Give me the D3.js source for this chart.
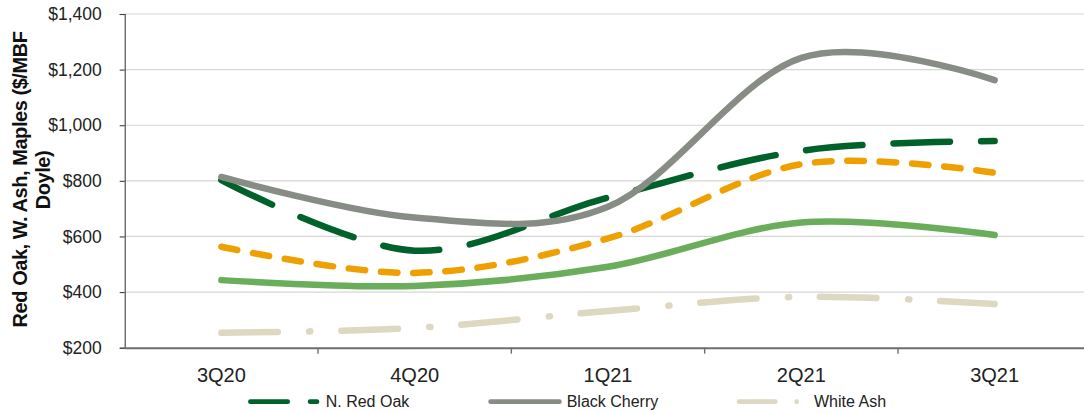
<!DOCTYPE html>
<html>
<head>
<meta charset="utf-8">
<script src="https://cdn.jsdelivr.net/npm/d3@7"></script>
<style>
  html, body { margin: 0; padding: 0; background: #fff; }
  svg { display: block; font-family: "Liberation Sans", Arial, sans-serif; }
</style>
</head>
<body>
<svg id="chart" width="1084" height="413"></svg>
<script>
// Quarterly lumber prices, $/MBF Doyle
const categories = ["3Q20", "4Q20", "1Q21", "2Q21", "3Q21"];
const redOak      = [803, 549, 740, 908, 943];
const blackCherry = [814, 668, 707, 1242, 1162];
const hardMaple   = [563, 469, 593, 860, 829];
const softMaple   = [443, 422, 491, 650, 605];
const whiteAsh    = [254, 271, 332, 383, 357];
const yTicks = [200, 400, 600, 800, 1000, 1200, 1400];
const legendNames = ["N. Red Oak", "Black Cherry", "White Ash"];

const W = 1084, H = 413;
const svg = d3.select("#chart");

const x = d3.scaleBand().domain(categories).range([124.7, 1091.3]).padding(0);
const y = d3.scaleLinear().domain([200, 1400]).range([347.7, 14]);
const cx = c => x(c) + x.bandwidth() / 2;

// gridlines
svg.append("g")
  .selectAll("line")
  .data(yTicks.filter(v => v > 200))
  .join("line")
  .attr("x1", 124.7).attr("x2", W)
  .attr("y1", d => y(d)).attr("y2", d => y(d))
  .attr("stroke", "#d6d6d6").attr("stroke-width", 1.2);

// y axis
const yAxis = svg.append("g")
  .attr("transform", "translate(124.7,0)")
  .call(d3.axisLeft(y).tickValues(yTicks).tickSize(5).tickPadding(18)
    .tickFormat(d => "$" + d3.format(",")(d)));
yAxis.select(".domain").attr("stroke", "#404040").attr("stroke-width", 1.1);
yAxis.selectAll(".tick line").attr("stroke", "#404040").attr("stroke-width", 1.1);
yAxis.selectAll(".tick text")
  .attr("font-size", 17.5).attr("fill", "#222").attr("font-family", "Liberation Sans, Arial, sans-serif");

// x axis
const xAxis = svg.append("g")
  .attr("transform", `translate(0,${y(200)})`)
  .call(d3.axisBottom(x).tickSize(0).tickPadding(20));
xAxis.select(".domain").attr("stroke", "#6e6e6e").attr("stroke-width", 2);
xAxis.selectAll(".tick text")
  .attr("font-size", 20).attr("fill", "#222").attr("font-family", "Liberation Sans, Arial, sans-serif");

// tick marks between quarters
svg.append("g")
  .selectAll("line")
  .data(categories.slice(1))
  .join("line")
  .attr("x1", d => x(d)).attr("x2", d => x(d))
  .attr("y1", y(200)).attr("y2", y(200) + 6)
  .attr("stroke", "#6e6e6e").attr("stroke-width", 1.4);

// y axis title
const title = svg.append("g")
  .attr("font-weight", "bold").attr("font-size", 20).attr("fill", "#111")
  .attr("letter-spacing", "-0.45px")
  .attr("text-anchor", "middle");
title.append("text")
  .attr("transform", "translate(27,179.5) rotate(-90)")
  .text("Red Oak, W. Ash, Maples ($/MBF");
title.append("text")
  .attr("transform", "translate(50,180) rotate(-90)")
  .text("Doyle)");

// series
const series = [
  { values: whiteAsh,    color: "#ddd8c1", dash: "56.5,31.5,1.2,30.8" },
  { values: softMaple,   color: "#6aad5b", dash: null },
  { values: hardMaple,   color: "#eea000", dash: "16.5,15.8" },
  { values: redOak,      color: "#00612b", dash: "56.5,31" },
  { values: blackCherry, color: "#878c85", dash: null }
];

const line = d3.line()
  .x((d, i) => cx(categories[i]))
  .y(d => y(d))
  .curve(d3.curveCardinal.tension(0));

svg.append("g")
  .selectAll("path")
  .data(series)
  .join("path")
  .attr("d", d => line(d.values))
  .attr("fill", "none")
  .attr("stroke", d => d.color)
  .attr("stroke-width", 6.5)
  .attr("stroke-linecap", "round")
  .attr("stroke-linejoin", "round")
  .attr("stroke-dasharray", d => d.dash);

// legend
const legendY = 401.7;
const legendItems = [
  { name: legendNames[0], color: "#00612b", x0: 250.4, x1: 317,   dash: "37.3,22.4", textX: 325.7 },
  { name: legendNames[1], color: "#878c85", x0: 490.6, x1: 559.4, dash: null,        textX: 566.7 },
  { name: legendNames[2], color: "#ddd8c1", x0: 739,   x1: 800,   dash: "36.3,21.4,0.1,100", textX: 814 }
];
const lg = svg.append("g");
lg.selectAll("line")
  .data(legendItems)
  .join("line")
  .attr("x1", d => d.x0).attr("x2", d => d.x1)
  .attr("y1", legendY).attr("y2", legendY)
  .attr("stroke", d => d.color)
  .attr("stroke-width", 4.7)
  .attr("stroke-linecap", "round")
  .attr("stroke-dasharray", d => d.dash);
lg.selectAll("text")
  .data(legendItems)
  .join("text")
  .attr("x", d => d.textX).attr("y", 407.3)
  .attr("font-size", 16).attr("fill", "#222")
  .text(d => d.name);
</script>
</body>
</html>
